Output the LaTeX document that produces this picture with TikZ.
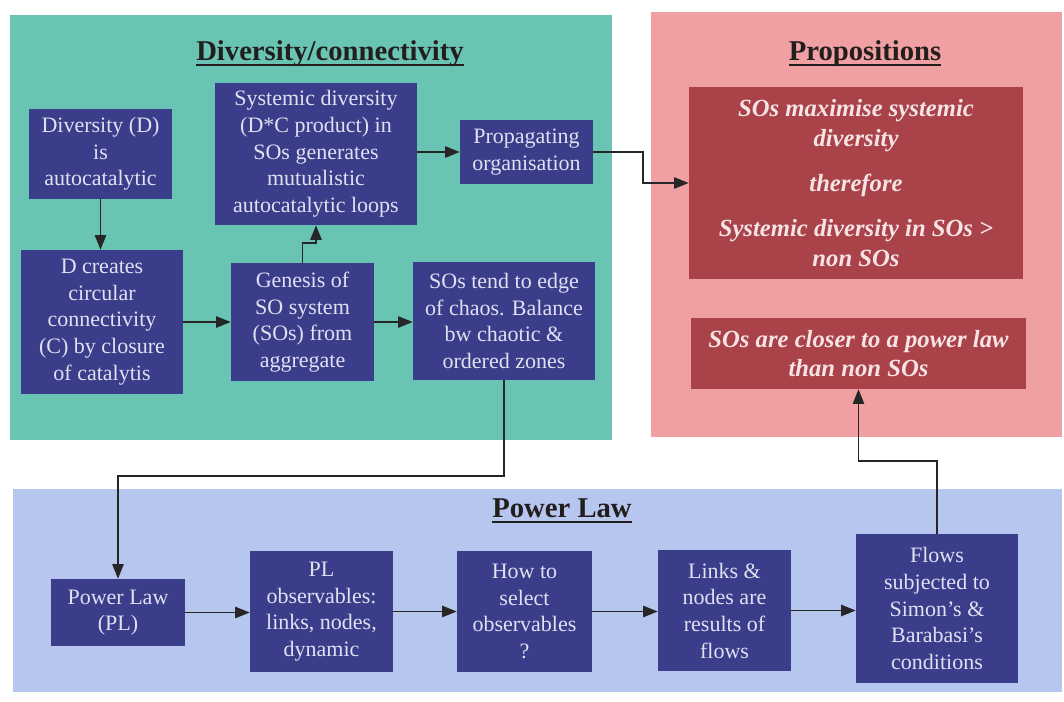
\documentclass[tikz,border=0pt]{standalone}
\usepackage{fontspec}
\setmainfont{Liberation Serif}
\usepackage{xcolor}
\usepackage{tikz}
\usetikzlibrary{arrows.meta}

\definecolor{tealbg}{RGB}{106,196,180}
\definecolor{pinkbg}{RGB}{240,160,162}
\definecolor{bluebg}{RGB}{182,198,238}
\definecolor{boxblue}{RGB}{58,62,138}
\definecolor{boxtext}{RGB}{224,224,242}
\definecolor{propred}{RGB}{170,66,74}
\definecolor{proptext}{RGB}{246,228,228}
\definecolor{headtext}{RGB}{34,30,30}
\definecolor{linegray}{RGB}{38,38,38}

% heading text with a heavy rule beneath it
\newcommand{\headline}[1]{\sbox0{#1}\rlap{\usebox0}\rule[-4pt]{\wd0}{1.6pt}}

\begin{document}
\begin{tikzpicture}[x=0.75pt, y=-0.75pt,
        box/.style={fill=boxblue, text=boxtext, align=center, inner sep=0pt,
            font=\fontsize{16.5}{20}\selectfont},
        prop/.style={fill=propred, text=proptext, align=center, inner sep=0pt,
            font=\fontsize{18.5}{22}\selectfont\bfseries\itshape},
        heading/.style={text=headtext, inner sep=0pt,
            font=\fontsize{21.5}{26}\selectfont\bfseries},
        arr/.style={draw=linegray, line width=1.3pt,
            -{Triangle[length=11pt,width=8.5pt]}}]
        \useasboundingbox (0,0) rectangle (1064,701);
        \fill[white] (0,0) rectangle (1064,701);

        % the three panels
        \fill[tealbg] (10,15) rectangle (612,440);
        \fill[pinkbg] (651,12) rectangle (1062,437);
        \fill[bluebg] (13,489) rectangle (1062,692);

        \node [heading] (L) at (330,54) {\headline{Diversity/connectivity}};
        \node [box, minimum width=107.25pt, minimum height=67.5pt] (A) at (100.5,154) {Diversity (D)\\is\\autocatalytic};
        \node [box, minimum width=121.5pt, minimum height=108pt] (B) at (102,322) {D creates\\circular\\connectivity\\(C) by closure\\of catalytis};
        \node [box, minimum width=151.5pt, minimum height=106.5pt] (C) at (316,154) {Systemic diversity\\(D*C product) in\\SOs generates\\mutualistic\\autocatalytic loops};
        \node [box, minimum width=107.25pt, minimum height=88.5pt] (D) at (302.5,322) {Genesis of\\SO system\\(SOs) from\\aggregate};
        \node [box, minimum width=99.75pt, minimum height=48pt] (E) at (526.5,152) {Propagating\\organisation};
        \node [box, minimum width=136.5pt, minimum height=88.5pt] (F) at (504,321) {SOs tend to edge\\of chaos. Balance\\bw chaotic \&\\ordered zones};

        \node [heading] (L1) at (865,54) {\headline{Propositions}};
        \node [prop, minimum width=250.5pt, minimum height=144pt] (P1) at (856,183) {SOs maximise systemic\\diversity\\[12pt]therefore\\[12pt]Systemic diversity in SOs >\\non SOs};
        \node [prop, minimum width=251.25pt, minimum height=53.25pt] (P2) at (858.5,353.5) {SOs are closer to a power law\\than non SOs};

        \node [heading] (L2) at (562,511) {\headline{Power Law}};
        \node [box, minimum width=100.5pt, minimum height=50.25pt] (G) at (118,612.5) {Power Law\\(PL)};
        \node [box, minimum width=107.25pt, minimum height=90.75pt] (H) at (321.5,611.5) {PL\\observables:\\links, nodes,\\dynamic};
        \node [box, minimum width=101.25pt, minimum height=90.75pt] (I) at (524.5,611.5) {How to\\select\\observables\\?};
        \node [box, minimum width=99.75pt, minimum height=90.75pt] (J) at (724.5,610.5) {Links \&\\nodes are\\results of\\flows};
        \node [box, minimum width=121.5pt, minimum height=111.75pt] (K) at (937,608.5) {Flows\\subjected to\\Simon's \&\\Barabasi's\\conditions};

        \draw[arr] (A.south) -- (A.south |- B.north);
        \draw[arr] (B) -- (D);
        \draw[arr] (D.north) -- ++(0,-20) -| (C.south);
        \draw[arr] (C.east |- E.west) -- (E.west);
        \draw[arr] (D.east) -- (D.east -| F.west);
        \draw[arr] (E.east) -- ++(50,0) |- (P1.west);
        \draw[arr] (F.south) -- ++(0,96) -| (G.north);
        \draw[arr] (G.east) -- (G.east -| H.west);
        \draw[arr] (H) -- (I);
        \draw[arr] (I.east) -- (I.east -| J.west);
        \draw[arr] (J.east) -- (J.east -| K.west);
        \draw[arr] (K.north) -- ++(0,-73) -| (P2.south);

    \end{tikzpicture}
\end{document}
